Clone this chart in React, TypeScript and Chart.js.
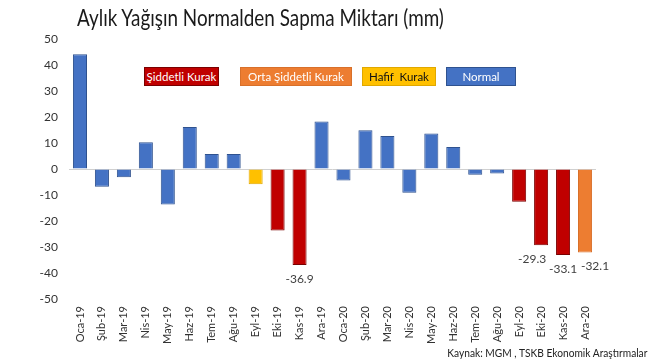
import React, { useEffect, useRef } from 'react';
import { Chart, registerables } from 'chart.js';

Chart.register(...registerables);

const months = [
  'Oca-19', 'Şub-19', 'Mar-19', 'Nis-19', 'May-19', 'Haz-19', 'Tem-19', 'Ağu-19',
  'Eyl-19', 'Eki-19', 'Kas-19', 'Ara-19', 'Oca-20', 'Şub-20', 'Mar-20', 'Nis-20',
  'May-20', 'Haz-20', 'Tem-20', 'Ağu-20', 'Eyl-20', 'Eki-20', 'Kas-20', 'Ara-20',
];
const deviations = [
  44.1, -6.8, -3.2, 10.3, -13.7, 16.2, 5.8, 5.8,
  -5.9, -23.7, -36.9, 18.3, -4.4, 14.9, 12.7, -9.1,
  13.7, 8.5, -2.2, -1.7, -12.6, -29.3, -33.1, -32.1,
];
// S: Şiddetli Kurak, O: Orta Şiddetli Kurak, H: Hafif Kurak, N: Normal
const classes = [
  'N', 'N', 'N', 'N', 'N', 'N', 'N', 'N',
  'H', 'S', 'S', 'N', 'N', 'N', 'N', 'N',
  'N', 'N', 'N', 'N', 'S', 'S', 'S', 'O',
];
const labeledMonths = ['Kas-19', 'Eki-20', 'Kas-20', 'Ara-20'];
const legendLabels = ['Şiddetli Kurak', 'Orta Şiddetli Kurak', 'Hafif  Kurak', 'Normal'];
const legendKeys = ['S', 'O', 'H', 'N'];
const yMin = -50;
const yMax = 50;
const yStep = 10;
const title = 'Aylık Yağışın Normalden Sapma Miktarı (mm)';
const source = 'Kaynak: MGM , TSKB Ekonomik Araştırmalar';

const fill: Record<string, string> = { S: '#C00000', O: '#ED7D31', H: '#FFC000', N: '#4472C4' };
const stroke: Record<string, string> = { S: '#7a0000', O: '#d8702a', H: '#e0a800', N: '#2F528F' };
const legendText: Record<string, string> = { S: '#fff', O: '#fff', H: '#111', N: '#fff' };
const legendPos = [
  { left: 144, width: 75 },
  { left: 240, width: 112 },
  { left: 362, width: 74 },
  { left: 446, width: 70 },
];
const labelShift: Record<string, number> = { 'Eki-20': -9, 'Ara-20': 10 };

const FONT = 'Lato, "Open Sans", sans-serif';

const dataLabelPlugin = {
  id: 'dataLabels',
  afterDatasetsDraw(chart: any) {
    const ctx = chart.ctx;
    const meta = chart.getDatasetMeta(0);
    ctx.save();
    ctx.font = `12px ${FONT}`;
    ctx.fillStyle = '#404040';
    ctx.textAlign = 'center';
    ctx.textBaseline = 'middle';
    meta.data.forEach((el: any, i: number) => {
      if (!labeledMonths.includes(months[i])) return;
      const dx = labelShift[months[i]] || 0;
      ctx.fillText(deviations[i].toFixed(1), el.x + dx, el.y + 14);
    });
    ctx.restore();
  },
};

function ChartCanvas() {
  const ref = useRef<HTMLCanvasElement>(null);
  useEffect(() => {
    if (!ref.current) return;
    const chart = new Chart(ref.current, {
      type: 'bar',
      data: {
        labels: months,
        datasets: [
          {
            data: deviations,
            backgroundColor: classes.map((c) => fill[c]),
            borderColor: classes.map((c) => stroke[c]),
            borderWidth: 1,
            barPercentage: 0.64,
            categoryPercentage: 1,
          },
        ],
      },
      options: {
        animation: false,
        responsive: false,
        maintainAspectRatio: false,
        layout: { padding: { top: 39, right: 54, bottom: 0, left: 0 } },
        plugins: { legend: { display: false }, tooltip: { enabled: false }, title: { display: false } },
        scales: {
          x: {
            grid: { display: false, drawTicks: false },
            border: { display: false },
            ticks: {
              minRotation: 90,
              maxRotation: 90,
              autoSkip: false,
              padding: 7,
              color: '#333',
              font: { family: FONT, size: 11 },
            },
            afterFit(scale: any) {
              scale.height = 61;
            },
          },
          y: {
            min: yMin,
            max: yMax,
            border: { display: false },
            grid: {
              drawTicks: false,
              color: (c: any) => (c.tick && c.tick.value === 0 ? '#d0d0d0' : 'transparent'),
              lineWidth: 1,
            },
            ticks: {
              stepSize: yStep,
              padding: 11,
              color: '#333',
              font: { family: FONT, size: 12 },
            },
            afterFit(scale: any) {
              scale.width = 69;
            },
          },
        },
      },
      plugins: [dataLabelPlugin],
    } as any);
    return () => chart.destroy();
  }, []);
  return <canvas ref={ref} width={650} height={360} style={{ position: 'absolute', left: 0, top: 0 }} />;
}

export default function App() {
  return (
    <div style={{ position: 'fixed', left: 0, top: 0, width: 650, height: 360, background: '#fff', fontFamily: FONT }}>
      <ChartCanvas />
      <div
        style={{
          position: 'absolute',
          left: 77,
          top: 2,
          fontSize: 23,
          color: '#1a1a1a',
          whiteSpace: 'nowrap',
          lineHeight: '30px',
          transform: 'scaleX(0.82)',
          transformOrigin: 'left center',
        }}
      >
        {title}
      </div>
      {legendKeys.map((k, i) => (
        <div
          key={k}
          style={{
            position: 'absolute',
            left: legendPos[i].left,
            top: 67,
            width: legendPos[i].width,
            height: 19,
            boxSizing: 'border-box',
            background: fill[k],
            border: `1px solid ${stroke[k]}`,
            color: legendText[k],
            fontSize: 11.5,
            lineHeight: '17px',
            textAlign: 'center',
            whiteSpace: 'pre',
          }}
        >
          {legendLabels[i]}
        </div>
      ))}
      <div
        style={{
          position: 'absolute',
          right: 3,
          top: 345,
          fontSize: 12,
          color: '#222',
          whiteSpace: 'nowrap',
          lineHeight: '16px',
          transform: 'scaleX(0.85)',
          transformOrigin: 'right center',
        }}
      >
        {source}
      </div>
    </div>
  );
}
